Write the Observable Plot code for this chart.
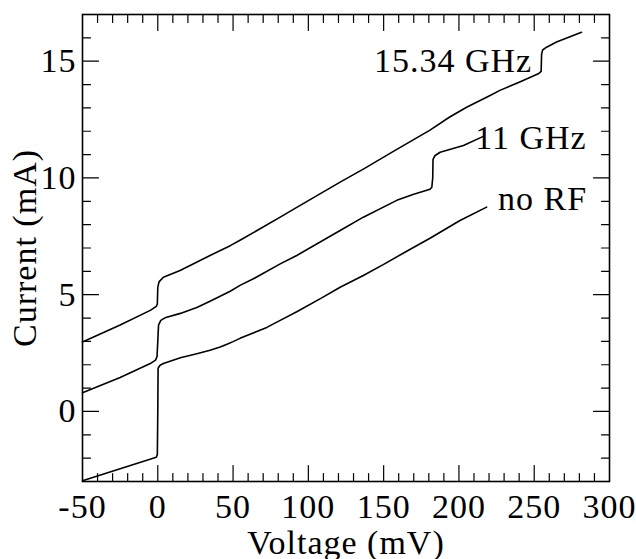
<!DOCTYPE html>
<html>
<head>
<meta charset="utf-8">
<script src="https://cdn.jsdelivr.net/npm/d3@7"></script>
<script src="https://cdn.jsdelivr.net/npm/@observablehq/plot@0.6"></script>
<style>
  html, body { margin: 0; padding: 0; background: #fff; }
  #chart { width: 636px; height: 559px; }
</style>
</head>
<body>
<div id="chart"></div>
<script>
// ---- Data (Voltage in mV, Current in mA) ----
const v1534 = [-50, -25, -5, -1, -0.3, 0, 0.8, 3.7, 14.8, 34.7, 48.1, 54.6, 81.3, 92.3, 121.1, 136.5, 157.6, 180.8, 193.6, 205.1, 220.7, 227.2, 240, 252.7, 254.6, 254.9, 255.6, 258.2, 264.8, 281.4];
const i1534 = [2.97, 3.7, 4.33, 4.5, 4.6, 5.3, 5.55, 5.75, 6.04, 6.68, 7.1, 7.33, 8.32, 8.74, 9.82, 10.38, 11.18, 12.05, 12.6, 13.03, 13.53, 13.75, 14.1, 14.46, 14.56, 15.3, 15.48, 15.6, 15.82, 16.24];

const v11 = [-50, -25, -5, -1.5, -0.5, 0, 0.5, 2, 4.8, 15, 25.9, 34.7, 48.1, 54.6, 63.5, 81.3, 92.3, 121.1, 136.5, 158.7, 170, 180.8, 182, 182.6, 182.8, 184, 187.5, 203, 216.2];
const i11 = [0.8, 1.45, 2.05, 2.2, 2.35, 3.0, 3.7, 3.9, 4.01, 4.2, 4.45, 4.72, 5.15, 5.4, 5.68, 6.32, 6.68, 7.75, 8.32, 9.04, 9.3, 9.52, 9.6, 10.0, 10.8, 10.95, 11.1, 11.39, 11.78];

const vNoRF = [-50, -25, -1, -0.3, 0, 0.2, 1.5, 3.7, 15, 25.9, 34.7, 41.4, 46, 50, 54.6, 72.4, 81.3, 92.3, 108, 121.1, 136.5, 150, 165, 180.8, 200.7, 218.4];
const iNoRF = [-2.97, -2.45, -1.96, -1.85, 0, 1.85, 1.98, 2.05, 2.3, 2.47, 2.62, 2.76, 2.88, 2.99, 3.13, 3.6, 3.9, 4.27, 4.83, 5.32, 5.82, 6.3, 6.85, 7.42, 8.18, 8.75];

const seriesNames = ["15.34 GHz", "11 GHz", "no RF"];
const labelX = [143.6, 210.8, 226.0];
const labelY = [14.52, 11.24, 8.61];

const xMajorTicks = [-50, 0, 50, 100, 150, 200, 250, 300];
const xMinorTicks = [-40, -30, -20, -10, 10, 20, 30, 40, 60, 70, 80, 90, 110, 120, 130, 140, 160, 170, 180, 190, 210, 220, 230, 240, 260, 270, 280, 290];
const yMajorTicks = [0, 5, 10, 15];
const yMinorTicks = [-2, -1, 1, 2, 3, 4, 6, 7, 8, 9, 11, 12, 13, 14, 16];

// ---- Build tables ----
const lineData = [
  ...v1534.map((v, k) => ({series: seriesNames[0], v, i: i1534[k]})),
  ...v11.map((v, k) => ({series: seriesNames[1], v, i: i11[k]})),
  ...vNoRF.map((v, k) => ({series: seriesNames[2], v, i: iNoRF[k]}))
];
const labels = seriesNames.map((name, k) => ({name, x: labelX[k], y: labelY[k]}));

const tickShape = {
  draw(context, l) { context.moveTo(0, 0); context.lineTo(0, -l); }
};
const MAJ = 16, MIN = 8;
function ticks(data, channel, frameAnchor, rotate, length) {
  return Plot.vector(data, {
    [channel]: d => d, frameAnchor, rotate, length, anchor: "start",
    shape: tickShape, stroke: "black", strokeWidth: 1.2
  });
}
const plainFormat = d => String(d);

const chart = Plot.plot({
  width: 636,
  height: 559,
  marginLeft: 82,
  marginRight: 27,
  marginTop: 14,
  marginBottom: 78,
  style: {fontFamily: "'Liberation Serif', 'Times New Roman', serif", fontSize: "34px", letterSpacing: "1px", color: "black", background: "white"},
  x: {domain: [-50, 300]},
  y: {domain: [-3, 17]},
  marks: [
    Plot.axisX(xMajorTicks, {tickSize: 0, tickPadding: 12, tickFormat: plainFormat, label: "Voltage (mV)", labelAnchor: "center", labelArrow: "none", labelOffset: 72}),
    Plot.axisY(yMajorTicks, {tickSize: 0, tickPadding: 6, tickFormat: plainFormat, label: "Current (mA)", labelAnchor: "center", labelArrow: "none", labelOffset: 71}),
    ticks(xMajorTicks.slice(1, -1), "x", "bottom", 0, MAJ),
    ticks(xMinorTicks, "x", "bottom", 0, MIN),
    ticks(xMajorTicks.slice(1, -1), "x", "top", 180, MAJ),
    ticks(xMinorTicks, "x", "top", 180, MIN),
    ticks(yMajorTicks, "y", "left", 90, MAJ),
    ticks(yMinorTicks, "y", "left", 90, MIN),
    ticks(yMajorTicks, "y", "right", -90, MAJ),
    ticks(yMinorTicks, "y", "right", -90, MIN),
    Plot.line(lineData, {x: "v", y: "i", z: "series", stroke: "black", strokeWidth: 1.6}),
    Plot.text(labels, {x: "x", y: "y", text: "name", textAnchor: "start", lineAnchor: "bottom", fill: "black"}),
    Plot.frame({stroke: "black", strokeWidth: 1.6})
  ]
});
document.getElementById("chart").appendChild(chart);
</script>
</body>
</html>
